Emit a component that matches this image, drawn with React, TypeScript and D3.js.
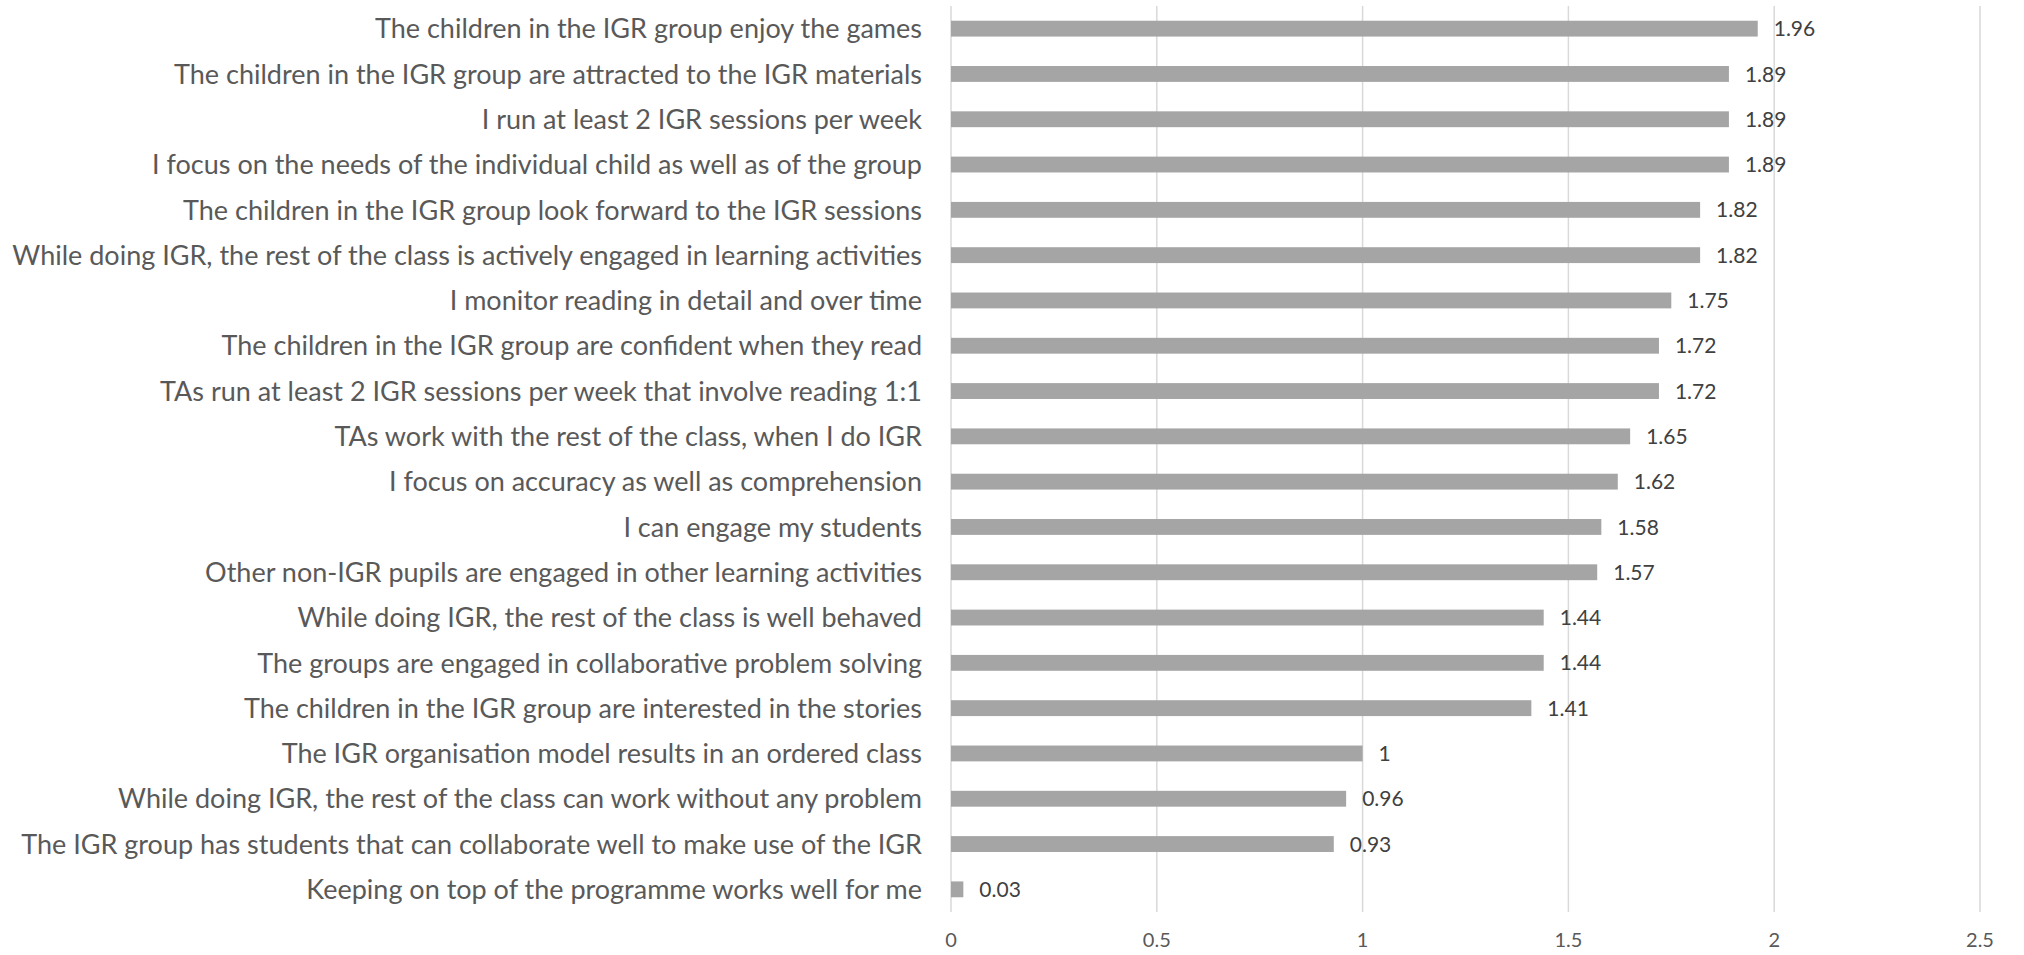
import React from "react";
import * as d3 from "d3";

const categories = [
  "The children in the IGR group enjoy the games",
  "The children in the IGR group are attracted to the IGR materials",
  "I run at least 2 IGR sessions per week",
  "I focus on the needs of the individual child as well as of the group",
  "The children in the IGR group look forward to the IGR sessions",
  "While doing IGR, the rest of the class is actively engaged in learning activities",
  "I monitor reading in detail and over time",
  "The children in the IGR group are confident when they read",
  "TAs run at least 2 IGR sessions per week that involve reading 1:1",
  "TAs work with the rest of the class, when I do IGR",
  "I focus on accuracy as well as comprehension",
  "I can engage my students",
  "Other non-IGR pupils are engaged in other learning activities",
  "While doing IGR, the rest of the class is well behaved",
  "The groups are engaged in collaborative problem solving",
  "The children in the IGR group are interested in the stories",
  "The IGR organisation model results in an ordered class",
  "While doing IGR, the rest of the class can work without any problem",
  "The IGR group has students that can collaborate well to make use of the IGR",
  "Keeping on top of the programme works well for me",
];

const values = [1.96, 1.89, 1.89, 1.89, 1.82, 1.82, 1.75, 1.72, 1.72, 1.65, 1.62, 1.58, 1.57, 1.44, 1.44, 1.41, 1, 0.96, 0.93, 0.03];

const tickValues = [0, 0.5, 1, 1.5, 2, 2.5];

const W = 2024;
const H = 955;
const FONT = "Lato, 'Open Sans', sans-serif";

export default function App() {
  const x = d3.scaleLinear().domain([0, 2.5]).range([951, 1980]);
  const y = d3.scaleBand<string>().domain(categories).range([6, 912]).paddingInner(0.65).paddingOuter(0.325);
  const fmt = (v: number) => String(v);

  return (
    <svg width={W} height={H} style={{ position: "absolute", left: 0, top: 0, background: "#fff" }}>
      <g>
        {tickValues.map((t) => (
          <line key={"g" + t} x1={x(t)} x2={x(t)} y1={6} y2={912} stroke="#d9d9d9" strokeWidth={1.5} />
        ))}
      </g>
      <g>
        {categories.map((c, i) => (
          <rect key={c} x={x(0)} y={y(c)!} width={x(values[i]) - x(0)} height={y.bandwidth()} fill="#a5a5a5" />
        ))}
      </g>
      <g fontFamily={FONT}>
        {categories.map((c, i) => (
          <text key={"v" + c} x={x(values[i]) + 16} y={y(c)! + y.bandwidth() / 2} dy="0.36em" fontSize={21} fill="#404040">
            {fmt(values[i])}
          </text>
        ))}
        {categories.map((c) => (
          <text key={"l" + c} x={922} y={y(c)! + y.bandwidth() / 2} dy="0.36em" fontSize={27} fill="#595959" textAnchor="end">
            {c}
          </text>
        ))}
        {tickValues.map((t) => (
          <text key={"t" + t} x={x(t)} y={947} fontSize={20} fill="#595959" textAnchor="middle">
            {fmt(t)}
          </text>
        ))}
      </g>
    </svg>
  );
}
